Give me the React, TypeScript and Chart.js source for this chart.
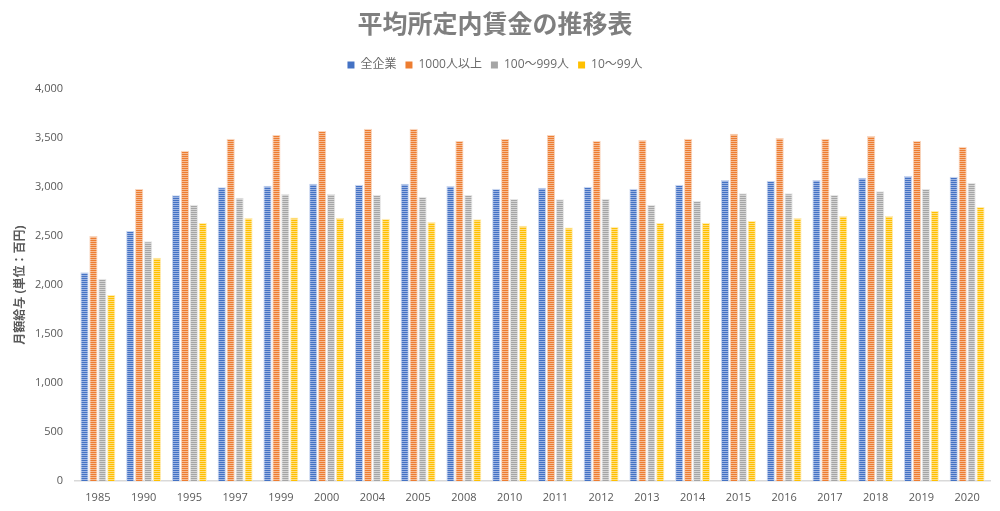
import React, { useEffect, useRef } from "react";
import { Chart, registerables } from "chart.js";

Chart.register(...registerables);

const years = ["1985","1990","1995","1997","1999","2000","2004","2005","2008","2010","2011","2012","2013","2014","2015","2016","2017","2018","2019","2020"];
const allCompanies = [2130,2550,2915,2997,3014,3034,3024,3034,3010,2983,2993,3003,2983,3024,3071,3064,3071,3095,3112,3105];
const large = [2500,2980,3371,3493,3531,3571,3595,3595,3469,3490,3531,3473,3480,3493,3544,3500,3493,3520,3473,3411];
const medium = [2064,2446,2820,2891,2929,2929,2922,2901,2918,2877,2874,2881,2820,2860,2935,2935,2918,2956,2980,3044];
const small = [1898,2279,2633,2684,2690,2684,2677,2643,2670,2605,2588,2595,2633,2636,2653,2684,2704,2704,2755,2796];
const seriesNames = ["全企業","1000人以上","100〜999人","10〜99人"];
const seriesColors = ["#4472C4","#ED7D31","#A5A5A5","#FFC000"];
const stripeColors = ["#9DB4E2","#F5BB94","#D4D4D4","#FFDD80"];
const borderColors = ["#C9D6F0","#F9D5BD","#E6E6E6","#FFECB3"];

function makePattern(base: string, light: string): CanvasPattern | string {
  const c = document.createElement("canvas");
  c.width = 4;
  c.height = 2;
  const ctx = c.getContext("2d");
  if (!ctx) return base;
  ctx.fillStyle = base;
  ctx.fillRect(0, 0, 4, 1);
  ctx.fillStyle = light;
  ctx.fillRect(0, 1, 4, 1);
  return ctx.createPattern(c, "repeat") || base;
}

const FONT = "'Open Sans', 'Noto Sans CJK JP', sans-serif";

const legendSpacer = {
  id: "legendSpacer",
  beforeLayout(chart: any) {
    const lg = chart.legend;
    if (lg && !lg.__patched) {
      const orig = lg.fit.bind(lg);
      lg.fit = function () {
        orig();
        this.height += 8;
      };
      lg.__patched = true;
    }
  },
};

export default function App() {
  const ref = useRef<HTMLCanvasElement | null>(null);
  useEffect(() => {
    if (!ref.current) return;
    const values = [allCompanies, large, medium, small];
    const chart = new Chart(ref.current, {
      type: "bar",
      data: {
        labels: years,
        datasets: values.map((v, i) => ({
          label: seriesNames[i],
          data: v,
          backgroundColor: makePattern(seriesColors[i], stripeColors[i]) as any,
          borderColor: borderColors[i],
          borderWidth: 1,
          barPercentage: 0.92,
          categoryPercentage: 0.78,
        })),
      },
      plugins: [legendSpacer],
      options: {
        responsive: false,
        animation: false,
        layout: { padding: { left: 0, right: 10, top: 7, bottom: 0 } },
        plugins: {
          title: {
            display: true,
            text: "平均所定内賃金の推移表",
            color: "#7f7f7f",
            font: { family: FONT, size: 25, weight: "bold" },
            padding: { top: 4, bottom: 9 },
          },
          legend: {
            display: true,
            position: "top",
            labels: {
              color: "#6b6b6b",
              font: { family: FONT, size: 12 },
              boxWidth: 7,
              boxHeight: 7,
              padding: 9,
              generateLabels: (ch: any) =>
                ch.data.datasets.map((d: any, i: number) => ({
                  text: d.label,
                  fillStyle: seriesColors[i],
                  strokeStyle: seriesColors[i],
                  lineWidth: 0,
                  fontColor: "#6b6b6b",
                  datasetIndex: i,
                  hidden: false,
                })),
            },
          },
          tooltip: { enabled: false },
        },
        scales: {
          x: {
            grid: { display: false, drawTicks: false },
            border: { display: true, color: "#D9D9D9", width: 1.5 },
            ticks: { color: "#595959", font: { family: FONT, size: 11 }, padding: 10, maxRotation: 0 },
            afterFit: (s: any) => { s.height = 30; },
          },
          y: {
            min: 0,
            max: 4000,
            grid: { display: false, drawTicks: false },
            border: { display: false },
            ticks: {
              stepSize: 500,
              color: "#595959",
              font: { family: FONT, size: 11 },
              padding: 12,
              callback: (v: any) => Number(v).toLocaleString("en-US"),
            },
            title: {
              display: true,
              text: "月額給与 (単位：百円)",
              color: "#595959",
              font: { family: FONT, size: 12, weight: "bold" },
              padding: { top: 13, bottom: 4 },
            },
            afterFit: (s: any) => { s.width = 75; },
          },
        },
      } as any,
    });
    return () => chart.destroy();
  }, []);
  return (
    <div style={{ position: "absolute", left: 0, top: 0, width: 1000, height: 511, background: "#fff" }}>
      <canvas ref={ref} width={1000} height={511} />
    </div>
  );
}
